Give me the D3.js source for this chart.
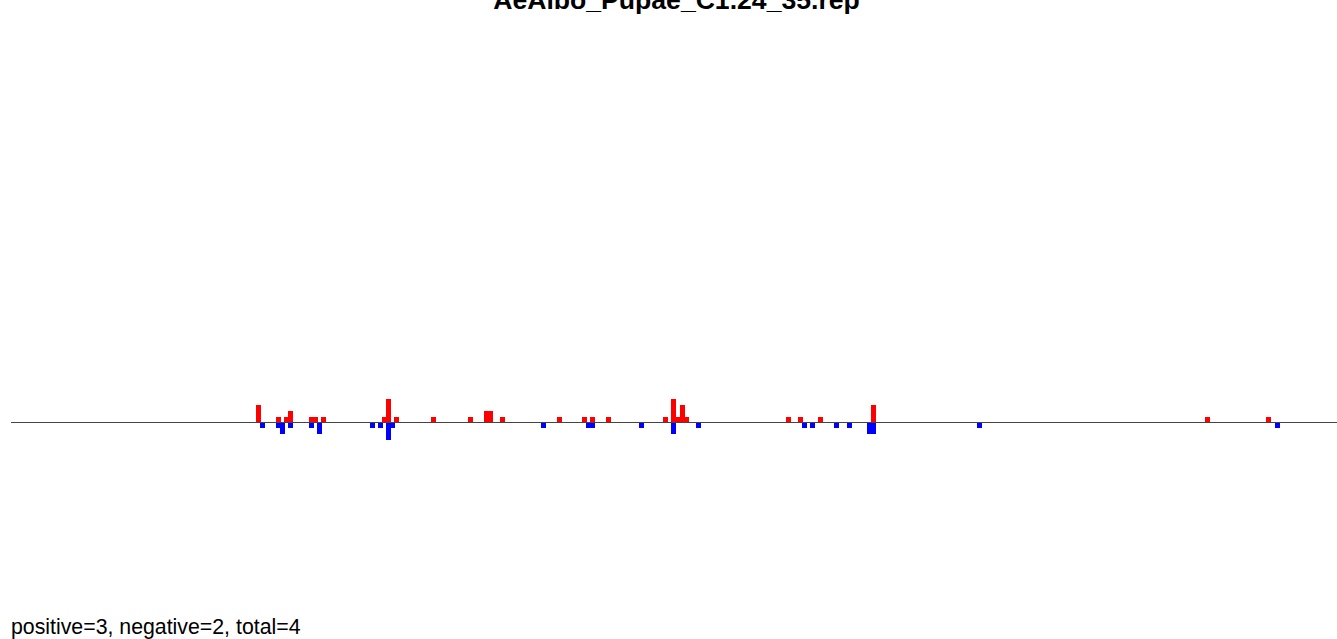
<!DOCTYPE html>
<html>
<head>
<meta charset="utf-8">
<script src="https://cdn.jsdelivr.net/npm/d3@7"></script>
<style>
  html, body { margin: 0; padding: 0; background: #fff; overflow: hidden; }
  svg { display: block; }
</style>
</head>
<body>
<svg id="chart" width="1337" height="639"></svg>
<script>
// ---- data (sequence positions and read counts) ----
const title = "AeAlbo_Pupae_C1.24_35.rep";
const footer = "positive=3, negative=2, total=4";
const seqLength = 1325;

// positive-strand reads (drawn up, red)
const posPositions = [244, 264, 272, 276, 297, 301, 309, 370, 374, 382, 419, 456, 472, 476, 488, 545, 570, 578, 594, 651, 659, 663, 668, 672, 774, 786, 806, 859, 1193, 1254];
const posCounts    = [3,   1,   1,   2,   1,   1,   1,   1,   4,   1,   1,   1,   2,   2,   1,   1,   1,   1,   1,   1,   4,   1,   3,   1,   1,   1,   1,   3,   1,    1];

// negative-strand reads (drawn down, blue)
const negPositions = [248, 264, 268, 276, 297, 305, 358, 366, 374, 378, 529, 574, 578, 627, 659, 684, 790, 798, 822, 835, 855, 859, 965, 1263];
const negCounts    = [1,   1,   2,   1,   1,   2,   1,   1,   3,   1,   1,   1,   1,   1,   2,   1,   1,   1,   1,   1,   2,   2,   1,   1];

// ---- layout ----
const svg = d3.select("#chart");
const x = d3.scaleLinear().domain([0, seqLength]).range([12, 1337]);
const y = d3.scaleLinear().domain([-10, 10]).range([480.6, 364.6]);
const barW = 5;

const pos = posPositions.map((p, i) => ({p, v: posCounts[i]}));
const neg = negPositions.map((p, i) => ({p, v: negCounts[i]}));

const y0 = Math.floor(y(0));

svg.append("g").selectAll("rect").data(pos).join("rect")
  .attr("x", d => Math.round(x(d.p)))
  .attr("y", d => Math.round(y(d.v)))
  .attr("width", barW)
  .attr("height", d => y0 - Math.round(y(d.v)) + 1)
  .attr("fill", "#ff0000")
  .attr("shape-rendering", "crispEdges");

svg.append("g").selectAll("rect").data(neg).join("rect")
  .attr("x", d => Math.round(x(d.p)))
  .attr("y", y0 + 1)
  .attr("width", barW)
  .attr("height", d => Math.round(y(-d.v)) - y0 - 1)
  .attr("fill", "#0000ff")
  .attr("shape-rendering", "crispEdges");

svg.append("line")
  .attr("x1", x(0) - 1).attr("x2", x(seqLength))
  .attr("y1", y0 + 0.5).attr("y2", y0 + 0.5)
  .attr("stroke", "#444")
  .attr("stroke-width", 1)
  .attr("shape-rendering", "crispEdges");

svg.append("text")
  .attr("x", 676.5)
  .attr("y", 9)
  .attr("text-anchor", "middle")
  .attr("font-family", "Liberation Sans, Arial, sans-serif")
  .attr("font-weight", "bold")
  .attr("font-size", 26.6)
  .attr("fill", "#000")
  .text(title);

svg.append("text")
  .attr("x", 11)
  .attr("y", 634)
  .attr("font-family", "Liberation Sans, Arial, sans-serif")
  .attr("font-size", 21.3)
  .attr("fill", "#000")
  .text(footer);
</script>
</body>
</html>
